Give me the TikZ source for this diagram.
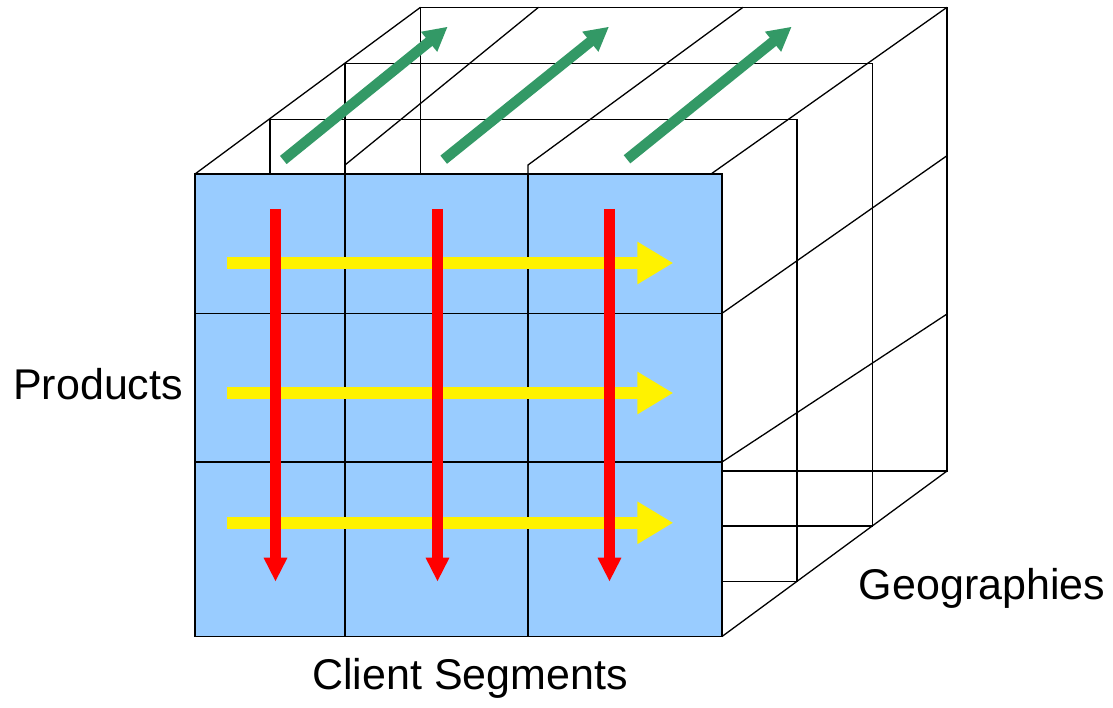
\documentclass[tikz,border=0pt]{standalone}
\usepackage{fontspec}
\setmainfont{Liberation Sans}
\usetikzlibrary{arrows.meta}
\definecolor{faceblue}{HTML}{99CCFF}
\definecolor{seagreen}{HTML}{339966}
\tikzset{
  wire/.style={draw=black, line width=1.3pt},
  frontface/.style={fill=faceblue, draw=black, line width=1.5pt},
  redarrow/.style={draw=red, line width=11pt, -{Triangle[length=24pt,width=22pt]}},
  yellowarrow/.style={draw=yellow, line width=12pt, -{Triangle[length=36pt,width=40pt]}},
  greenarrow/.style={draw=seagreen, line width=10.5pt, -{Triangle[length=24pt,width=24pt]}},
  label/.style={inner sep=0pt, font=\fontsize{43}{50}\selectfont}
}
\begin{document}
\begin{tikzpicture}[x=1pt,y=-1pt]
\useasboundingbox (0,0) rectangle (1113,708);
% slices behind the front face
\draw[wire] (420.5,7.3) rectangle (947,471);
\draw[wire] (345,63.3) rectangle (872.3,526);
\draw[wire] (270,119.3) rectangle (797,581.5);
% top face diagonals
\draw[wire] (195,174) -- (420.5,7.3);
\draw[wire] (345,165) -- (538.5,7.3);
\draw[wire] (528,174) -- (528,165) -- (743,7.3);
\draw[wire] (711,174) -- (947,7.3);
% right face diagonals
\draw[wire] (722,313.3) -- (947,155.7);
\draw[wire] (722,462) -- (947,314);
\draw[wire] (722,636.5) -- (947,471);
% front face
\draw[frontface] (195,174) rectangle (722,636.5);
\draw[wire] (345,174) -- (345,636.5);
\draw[wire] (528,174) -- (528,636.5);
\draw[wire] (195,313.3) -- (722,313.3);
\draw[wire] (195,462) -- (722,462);
% arrow coordinates
\coordinate (y1s) at (227,263);   \coordinate (y1e) at (673.3,263);
\coordinate (y2s) at (227,393);   \coordinate (y2e) at (673.3,393);
\coordinate (y3s) at (227,522.8); \coordinate (y3e) at (673.3,522.8);
\coordinate (r1s) at (275.5,209); \coordinate (r1e) at (275.5,581.7);
\coordinate (r2s) at (437.5,209); \coordinate (r2e) at (437.5,581.7);
\coordinate (r3s) at (609.5,209); \coordinate (r3e) at (609.5,581.7);
\coordinate (g1s) at (283.3,160); \coordinate (g1e) at (447.7,26.7);
\coordinate (g2s) at (443.7,159.7); \coordinate (g2e) at (609,26.7);
\coordinate (g3s) at (627,159.3); \coordinate (g3e) at (791.7,26.7);
% arrows
\draw[yellowarrow] (y1s) -- (y1e);
\draw[yellowarrow] (y2s) -- (y2e);
\draw[yellowarrow] (y3s) -- (y3e);
\draw[redarrow] (r1s) -- (r1e);
\draw[redarrow] (r2s) -- (r2e);
\draw[redarrow] (r3s) -- (r3e);
\draw[greenarrow] (g1s) -- (g1e);
\draw[greenarrow] (g2s) -- (g2e);
\draw[greenarrow] (g3s) -- (g3e);
% labels
\node[label, anchor=base west] (products) at (13,399) {Products};
\node[label, anchor=base] (clients) at (470,689) {Client Segments};
\node[label, anchor=base] (geo) at (982,599) {Geographies};
\end{tikzpicture}
\end{document}
